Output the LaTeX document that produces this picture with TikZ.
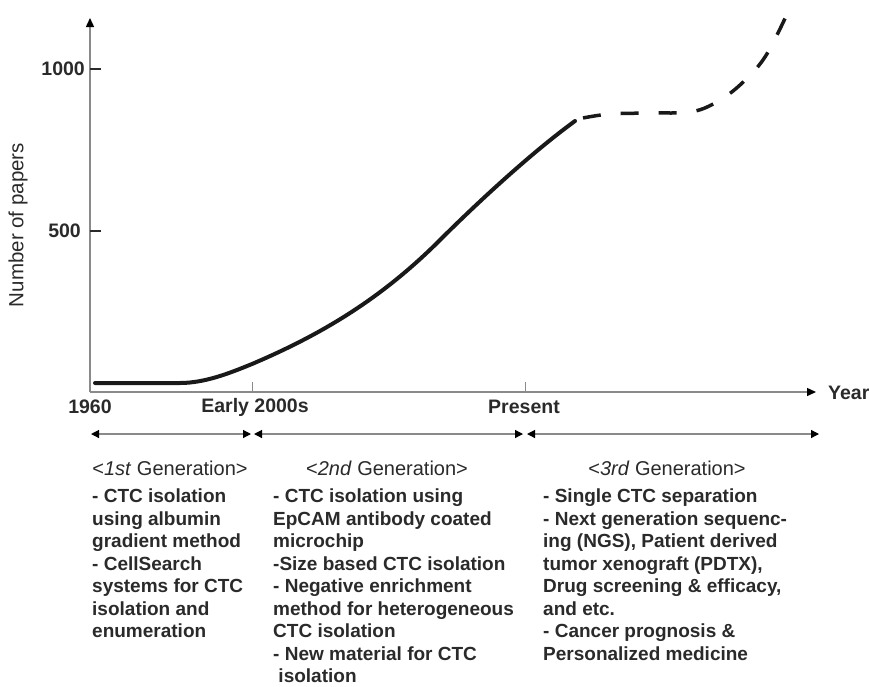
\documentclass[tikz,border=0pt]{standalone}
\usepackage{fontspec}
\setmainfont{Liberation Sans}
\usetikzlibrary{arrows.meta}
\definecolor{axisgray}{HTML}{8A8A8A}
\definecolor{ink}{HTML}{2A2A2A}
\tikzset{
  axis/.style={draw=axisgray, line width=1.4pt},
  tip/.style={-{Triangle[length=9pt,width=8pt,color=black]}},
  dtip/.style={{Triangle[length=8pt,width=8pt,color=black]}-{Triangle[length=8pt,width=8pt,color=black]}},
  tick/.style={draw=axisgray, line width=1pt},
  lbl/.style={font=\fontsize{19.5}{22}\selectfont\bfseries, text=ink, inner sep=0pt},
  head/.style={font=\fontsize{20}{24}\selectfont, text=ink, inner sep=0pt, anchor=base},
  body/.style={font=\fontsize{19}{22.5}\selectfont\bfseries, text=ink, inner sep=0pt, align=left, anchor=north west},
  curve/.style={line width=4pt, draw=black!90},
  future/.style={line width=3.5pt, draw=black!90, dash pattern=on 18pt off 20pt},
}
\begin{document}
\begin{tikzpicture}[x=1pt,y=-1pt]
\useasboundingbox (0,0) rectangle (869,686);
% axes
\coordinate (O) at (90,392);
\coordinate (Ytop) at (90,18);
\coordinate (Xend) at (816,392);
\draw[axis,tip] (O) -- (Ytop);
\draw[axis,tip] (O) -- (Xend);
\node[lbl, anchor=west] (year) at (828,393) {Year};
% y ticks
\coordinate (t1000) at (90,69);
\coordinate (t1000e) at (101,69);
\coordinate (t500) at (90,231);
\coordinate (t500e) at (101,231);
\draw[draw=ink, line width=1.3pt] (t1000) -- (t1000e);
\draw[draw=ink, line width=1.3pt] (t500) -- (t500e);
\node[lbl, anchor=east] (l1000) at (85,69) {1000};
\node[lbl, anchor=east] (l500) at (81,231) {500};
\node[font=\fontsize{20.5}{24}\selectfont, text=ink, rotate=90, inner sep=0pt] (ylab) at (18,225) {Number of papers};
% x ticks
\coordinate (tE) at (252,392);
\coordinate (tEe) at (252,382);
\coordinate (tP) at (525,392);
\coordinate (tPe) at (525,382);
\draw[tick] (tE) -- (tEe);
\draw[tick] (tP) -- (tPe);
\node[lbl] (l1960) at (90,407) {1960};
\node[lbl] (lE) at (255,407) {Early 2000s};
\node[lbl] (lP) at (524,407) {Present};
% generation arrows
\coordinate (g1a) at (91,434);
\coordinate (g1b) at (251,434);
\coordinate (g2a) at (254,434);
\coordinate (g2b) at (523,434);
\coordinate (g3a) at (527,434);
\coordinate (g3b) at (819,434);
\draw[axis,line width=1.2pt,dtip] (g1a) -- (g1b);
\draw[axis,line width=1.2pt,dtip] (g2a) -- (g2b);
\draw[axis,line width=1.2pt,dtip] (g3a) -- (g3b);
% headings
\node[head] (h1) at (170,475) {<\textit{1st} Generation>};
\node[head] (h2) at (387,475) {<\textit{2nd} Generation>};
\node[head] (h3) at (667,475) {<\textit{3rd} Generation>};
% bodies
\node[body] (b1) at (92,489) {- CTC isolation\\using albumin\\gradient method\\- CellSearch\\systems for CTC\\isolation and\\enumeration};
\node[body] (b2) at (273,489) {- CTC isolation using\\EpCAM antibody coated\\microchip\\-Size based CTC isolation\\- Negative enrichment\\method for heterogeneous\\CTC isolation\\- New material for CTC\\\ isolation};
\node[body] (b3) at (543,489) {- Single CTC separation\\- Next generation sequenc-\\ing (NGS), Patient derived\\tumor xenograft (PDTX),\\Drug screening \& efficacy,\\and etc.\\- Cancer prognosis \&\\Personalized medicine};
% curve
\coordinate (c0) at (95,383);
\coordinate (c1) at (180,383);
\coordinate (c2) at (252,364);
\coordinate (c3) at (440,240);
\coordinate (c4) at (575,121);
\draw[curve, line cap=round] (c0) -- (c1) .. controls (205,383) and (230,373) .. (c2)
  .. controls (320,335) and (380,300) .. (c3)
  .. controls (470,210) and (527,156) .. (c4);
\draw[future] plot[smooth, tension=0.6] coordinates {(583,118) (610,114) (650,113) (690,112) (715,103) (740,85) (765,57) (788,12)};
\end{tikzpicture}
\end{document}
